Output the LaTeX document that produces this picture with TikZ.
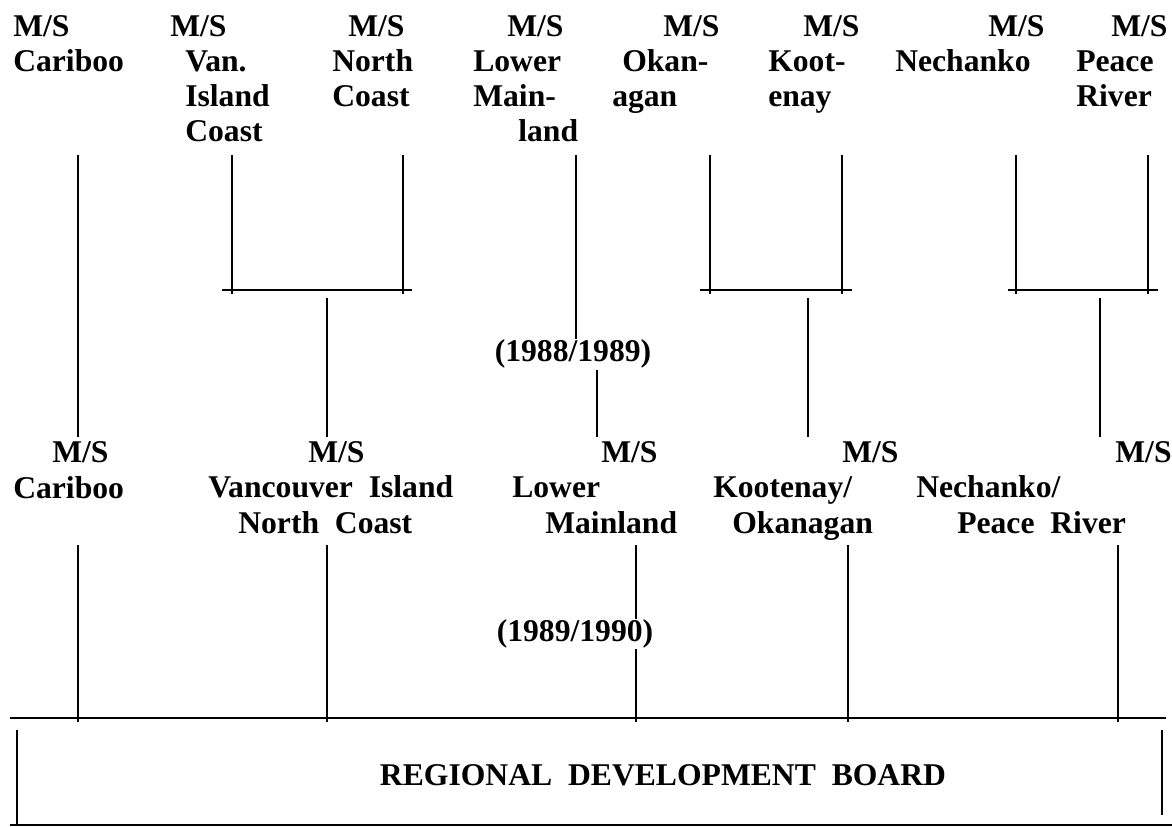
\documentclass[tikz,border=0pt]{standalone}
\usepackage{fontspec}
\setmainfont{Liberation Serif}
\usetikzlibrary{positioning, calc}

\begin{document}
\begin{tikzpicture}[
    x=0.025cm, y=-0.025cm,
    wilayah/.style={anchor=base west, inner sep=0pt, align=left,
                    font=\fontsize{22.5}{24.9}\selectfont\bfseries},
    tahun/.style={inner sep=0pt, font=\fontsize{22.5}{24.9}\selectfont\bfseries},
    garis/.style={line width=1.7pt},
    palang/.style={line width=0.9pt}
  ]
    \useasboundingbox[fill=white] (0,0) rectangle (1172,827);

    % first level (placed at the baseline of the last line)
    \node[wilayah] (cariboo) at (13,72) {M/S\\Cariboo};
    \node[wilayah] (vanisland) at (170,142) {M/S\\\hspace*{0.375cm}Van.\\\hspace*{0.375cm}Island\\\hspace*{0.375cm}Coast};
    \node[wilayah] (northcoast) at (332,107) {\hspace*{0.4cm}M/S\\North\\Coast};
    \node[wilayah] (lowermain) at (473,142) {\hspace*{0.85cm}M/S\\Lower\\Main-\\\hspace*{1.125cm}land};
    \node[wilayah] (okanagan) at (612,107) {\hspace*{1.275cm}M/S\\\hspace*{0.25cm}Okan-\\agan};
    \node[wilayah] (kootenay) at (768,107) {\hspace*{0.875cm}M/S\\Koot-\\enay};
    \node[wilayah] (nechanko) at (895,72) {\hspace*{2.325cm}M/S\\Nechanko};
    \node[wilayah] (peace) at (1076,107) {\hspace*{0.875cm}M/S\\Peace\\River};

    % second level
    \node[wilayah] (cariboob) at (13,498) {\hspace*{0.975cm}M/S\\Cariboo};
    \node[wilayah] (vicoast) at (208,533) {\hspace*{2.5cm}M/S\\Vancouver\ \ Island\\\hspace*{0.75cm}North\ \ Coast};
    \node[wilayah] (lowermainb) at (512,533) {\hspace*{2.225cm}M/S\\Lower\\\hspace*{0.825cm}Mainland};
    \node[wilayah] (kootok) at (713,533) {\hspace*{3.225cm}M/S\\Kootenay/\\\hspace*{0.475cm}Okanagan};
    \node[wilayah] (nechpeace) at (916,533) {\hspace*{4.975cm}M/S\\Nechanko/\\\hspace*{1.025cm}Peace\ \ River};

    \node[tahun] (yr1) at (573,354) {(1988/1989)};
    \node[tahun] (yr2) at (575,634) {(1989/1990)};
    \node[tahun] (board) at (663,775) {REGIONAL\ \ DEVELOPMENT\ \ BOARD};

    % line ends
    \coordinate (a1) at (78,155);
    \coordinate (a2) at (232,155);
    \coordinate (a3) at (403,155);
    \coordinate (a4) at (576,155);
    \coordinate (a5) at (710,155);
    \coordinate (a6) at (842,155);
    \coordinate (a7) at (1016,155);
    \coordinate (a8) at (1148,155);
    \coordinate (j1) at (0,290);
    \coordinate (m1) at (0,437);
    \coordinate (n3) at (636,545);

    % first level to junctions
    \draw[garis] (a1) -- (a1 |- m1);
    \foreach \s in {a2,a3,a5,a6,a7,a8}
      \draw[garis] (\s) -- ($(\s |- j1)+(0,4)$);
    \draw[palang] (222,290) -- (412,290);
    \draw[palang] (700,290) -- (852,290);
    \draw[palang] (1008,290) -- (1158,290);
    \draw[garis] (327,298) -- (327,437);
    \draw[garis] (808,298) -- (808,437);
    \draw[garis] (1100,298) -- (1100,437);
    \draw[garis] (a4) -- (a4 |- yr1.north);
    \draw[garis] (597,370) -- (597,437);

    % second level to board
    \foreach \x in {78,327,848,1118}
      \draw[garis] (\x,545) -- (\x,722);
    \draw[garis] (n3) -- (n3 |- yr2.north);
    \draw[garis] (n3 |- yr2.south) -- (636,722);

    % board frame
    \draw[palang] (10,718) -- (1166,718);
    \draw[garis] (17,730) -- (17,825);
    \draw[garis] (1162,730) -- (1162,815);
    \draw[palang] (10,825) -- (1172,825);
\end{tikzpicture}
\end{document}
